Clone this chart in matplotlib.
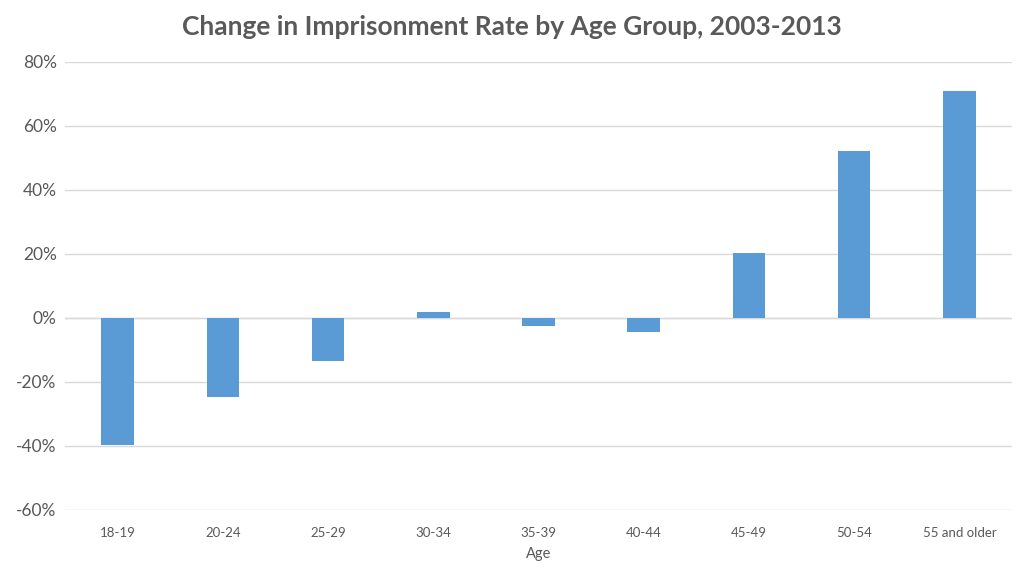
import matplotlib.pyplot as plt
from matplotlib.ticker import FuncFormatter

plt.rcParams['font.family'] = ['Lato', 'DejaVu Sans']

# Data
age_groups = ['18-19', '20-24', '25-29', '30-34', '35-39',
              '40-44', '45-49', '50-54', '55 and older']
change_pct = [-39.7, -24.7, -13.4, 2.0, -2.5, -4.5, 20.3, 52.2, 70.9]

text_col = '#595959'
bar_col = '#5B9BD5'
grid_col = '#D9D9D9'

fig = plt.figure(figsize=(10.24, 5.76), dpi=100)
ax = fig.add_axes([65 / 1024, 1 - 510 / 576, (1012 - 65) / 1024, (510 - 62) / 576])

x = range(len(age_groups))
ax.bar(x, change_pct, width=0.31, color=bar_col, zorder=3)

ax.set_xlim(-0.5, len(age_groups) - 0.5)
ax.set_ylim(-60, 80)
ax.set_yticks(range(-60, 81, 20))
ax.yaxis.set_major_formatter(FuncFormatter(lambda v, p: f'{v:.0f}%'))
ax.set_xticks(list(x))
ax.set_xticklabels(age_groups)

ax.grid(axis='y', color=grid_col, linewidth=1, zorder=0)
ax.axhline(0, color=grid_col, linewidth=1, zorder=1)
for s in ax.spines.values():
    s.set_visible(False)
ax.tick_params(axis='both', length=0, colors=text_col)
ax.tick_params(axis='y', labelsize=12.5, pad=6)
ax.tick_params(axis='x', labelsize=9.5, pad=12)

ax.set_xlabel('Age', color=text_col, fontsize=10.5, labelpad=6)

fig.text(0.5, 1 - 27 / 576, 'Change in Imprisonment Rate by Age Group, 2003-2013',
         ha='center', va='center', fontsize=19, fontweight='bold', color=text_col)

fig.savefig('out.png', dpi=100)
